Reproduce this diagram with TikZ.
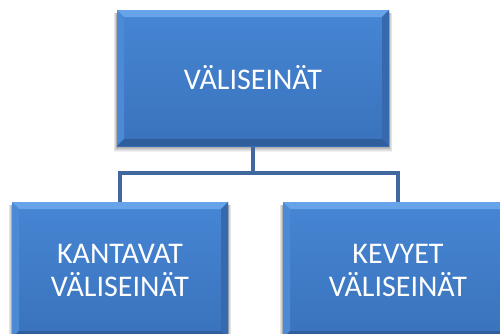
\documentclass[tikz,border=0pt]{standalone}
\usepackage{fontspec}
\setmainfont{Carlito}
\usetikzlibrary{calc}

\pgfdeclarelayer{background}
\pgfsetlayers{background,main}

\definecolor{boxtop}{HTML}{4686D4}
\definecolor{boxbot}{HTML}{3A72BC}
\definecolor{bevlight}{HTML}{66A3E8}
\definecolor{bevleft}{HTML}{4C8AD6}
\definecolor{bevright}{HTML}{3669AE}
\definecolor{bevdark}{HTML}{2F5E9C}
\definecolor{linkblue}{HTML}{40689E}

\tikzset{
  bevelbox/.style={
    rectangle, inner sep=0pt, text=white, align=center,
    font=\fontsize{30}{33}\selectfont,
    top color=boxtop, bottom color=boxbot,
    path picture={
      \coordinate (bbsw) at (path picture bounding box.south west);
      \coordinate (bbne) at (path picture bounding box.north east);
      \coordinate (bbnw) at (path picture bounding box.north west);
      \coordinate (bbse) at (path picture bounding box.south east);
      % top facet
      \fill[bevlight] (bbnw) -- (bbne) -- ($(bbne)+(-7pt,-7pt)$) -- ($(bbnw)+(7pt,-7pt)$) -- cycle;
      % left facet
      \fill[bevleft] (bbnw) -- ($(bbnw)+(7pt,-7pt)$) -- ($(bbsw)+(7pt,7pt)$) -- (bbsw) -- cycle;
      % right facet
      \fill[bevright] (bbne) -- ($(bbne)+(-7pt,-7pt)$) -- ($(bbse)+(-7pt,7pt)$) -- (bbse) -- cycle;
      % bottom facet
      \fill[bevdark] (bbsw) -- ($(bbsw)+(7pt,7pt)$) -- ($(bbse)+(-7pt,7pt)$) -- (bbse) -- cycle;
    }
  },
  link/.style={draw=linkblue, line width=4pt, line join=miter}
}

% soft drop shadow under a node
\newcommand{\softshadow}[1]{%
  \foreach \s/\o in {5/0.05,4/0.06,3/0.07,2/0.08,1/0.10}{%
    \fill[black, opacity=\o]
      ($(#1.south west)+(-0.6*\s pt,-\s pt-1pt)$) rectangle
      ($(#1.north east)+(0.6*\s pt,-3pt)$);
  }%
}

\begin{document}
\begin{tikzpicture}[x=1pt, y=-1pt]
  \useasboundingbox (0,0) rectangle (500,333);
  \clip (0,0) rectangle (500,333);

  \coordinate (hub) at (253,173);

  % the three boxes
  \path
    (253,78)  node[bevelbox, minimum width=272pt, minimum height=136pt] (top) {VÄLISEINÄT}
    (120,270) node[bevelbox, minimum width=216pt, minimum height=136pt] (left) {KANTAVAT\\VÄLISEINÄT}
    (398,270) node[bevelbox, minimum width=230pt, minimum height=136pt] (right) {KEVYET\\VÄLISEINÄT};

  % shadows and connectors behind the boxes
  \begin{pgfonlayer}{background}
    \fill[white] (0,0) rectangle (500,333);
    \softshadow{top}
    \softshadow{left}
    \softshadow{right}
    \draw[link] (top.south) -- (hub);
    \draw[link] (hub) -| (left.north);
    \draw[link] (hub) -| (right.north);
  \end{pgfonlayer}
\end{tikzpicture}
\end{document}
